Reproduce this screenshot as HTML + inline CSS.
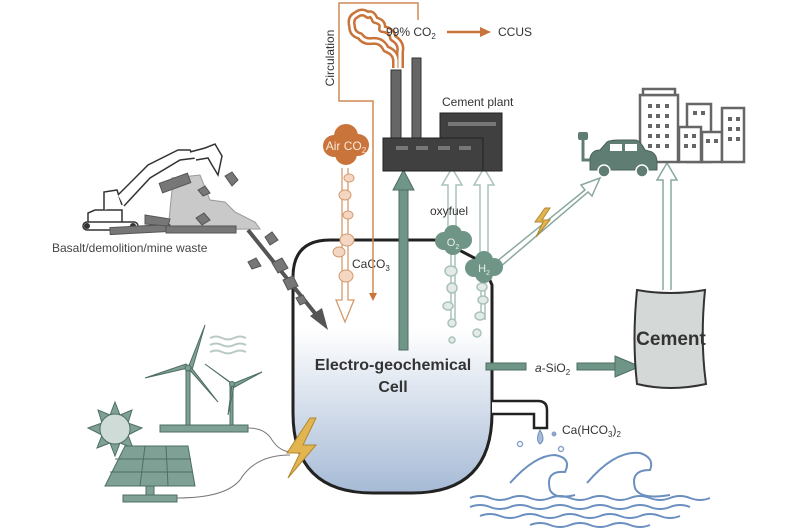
<!DOCTYPE html>
<html><head><meta charset="utf-8"><style>
html,body{margin:0;padding:0;background:#fff}
svg{display:block}
text{font-family:"Liberation Sans",sans-serif}
</style></head><body>
<svg width="800" height="530" viewBox="0 0 800 530" xmlns="http://www.w3.org/2000/svg">
<defs>
<linearGradient id="cg" x1="0" y1="0" x2="0" y2="1">
<stop offset="0" stop-color="#fff"/><stop offset="0.35" stop-color="#fff"/><stop offset="1" stop-color="#a6bad6"/>
</linearGradient>
</defs>

<!-- Cell -->
<path d="M293,277 Q293,240 330,240 L440,240 L482,262 L492,285 L492,413 Q492,493 412,493 L373,493 Q293,493 293,413 Z" fill="url(#cg)" stroke="#222" stroke-width="3"/>
<text x="393" y="370" font-size="16" font-weight="bold" text-anchor="middle" fill="#333">Electro-geochemical</text>
<text x="393" y="392" font-size="16" font-weight="bold" text-anchor="middle" fill="#333">Cell</text>

<!-- faucet -->
<path d="M492,401 L538,401 Q547,401 547,410 L547,428 L534,428 L534,414 L492,414" fill="#fff" stroke="#222" stroke-width="2.5"/>
<path d="M540,430 Q535,440 540,444 Q546,440 540,430Z" fill="#a8bcd8" stroke="#6b8fc0"/>
<circle cx="520" cy="444" r="2.5" fill="none" stroke="#8aa4c8" stroke-width="1.5"/>
<circle cx="554" cy="434" r="2.5" fill="#8aa4c8"/>
<circle cx="561" cy="449" r="2.5" fill="none" stroke="#8aa4c8" stroke-width="1.5"/>
<text x="562" y="434" font-size="12" fill="#333">Ca(HCO<tspan font-size="8" dy="3">3</tspan><tspan dy="-3">)</tspan><tspan font-size="8" dy="3">2</tspan></text>
<!-- waves -->
<g fill="none" stroke="#6b8fc0" stroke-width="2">
<path d="M510,483 Q535,455 555,455 Q572,458 565,472 Q545,470 550,490 Q555,500 575,495"/>
<path d="M587,483 Q615,450 640,453 Q655,458 650,470 Q630,470 635,488 Q640,500 670,495"/>
<path d="M470,498 q10,-4 20,0 t20,0 t20,0 t20,0 t20,0 t20,0 t20,0 t20,0 t20,0 t20,0 t20,0 t20,0"/>
<path d="M470,507 q10,-4 20,0 t20,0 t20,0 t20,0 t20,0 t20,0 t20,0 t20,0 t20,0 t20,0 t20,0"/>
<path d="M480,516 q10,-4 20,0 t20,0 t20,0 t20,0 t20,0 t20,0 t20,0 t20,0 t20,0 t20,0"/>
<path d="M530,525 q10,-4 20,0 t20,0 t20,0 t20,0 t20,0 t20,0"/>
</g>

<!-- a-SiO2 arrow -->
<rect x="486" y="363" width="40" height="7" fill="#6f9587" stroke="#4e6e63"/>
<rect x="577" y="363" width="40" height="7" fill="#6f9587" stroke="#4e6e63"/>
<path d="M615,356 L640,366.5 L615,377Z" fill="#6f9587" stroke="#4e6e63"/>
<text x="535" y="372" font-size="12" fill="#333"><tspan font-style="italic">a</tspan>-SiO<tspan font-size="8" dy="3">2</tspan></text>

<!-- Cement bag -->
<path d="M637,290 Q670,296 705,290 Q700,340 706,384 Q670,392 637,384 Q632,340 637,290Z" fill="#d4d9d8" stroke="#333" stroke-width="2"/>
<text x="671" y="345" font-size="19" font-weight="bold" text-anchor="middle" fill="#333">Cement</text>
<!-- arrow up to city -->
<path d="M663,290 L663,180 L657,180 L667,163 L677,180 L671,180 L671,290" fill="#fff" stroke="#8aa89d" stroke-width="1.5"/>

<!-- city -->
<g fill="#fff" stroke="#666" stroke-width="2.5">
<rect x="640" y="95" width="38" height="67"/>
<rect x="643" y="89" width="32" height="6"/>
<rect x="687" y="104" width="24" height="58"/>
<rect x="679" y="127" width="22" height="35"/>
<rect x="702" y="132" width="20" height="30"/>
<rect x="722" y="108" width="22" height="54"/>
</g>
<g fill="#666">
<rect x="648" y="104" width="4" height="4"/><rect x="656" y="104" width="4" height="4"/><rect x="665" y="104" width="4" height="4"/>
<rect x="648" y="114" width="4" height="4"/><rect x="656" y="114" width="4" height="4"/><rect x="665" y="114" width="4" height="4"/>
<rect x="648" y="124" width="4" height="4"/><rect x="656" y="124" width="4" height="4"/><rect x="665" y="124" width="4" height="4"/>
<rect x="648" y="134" width="4" height="4"/><rect x="656" y="134" width="4" height="4"/><rect x="665" y="134" width="4" height="4"/>
<rect x="648" y="144" width="4" height="4"/><rect x="656" y="144" width="4" height="4"/><rect x="665" y="144" width="4" height="4"/>
<rect x="693" y="111" width="4" height="4"/><rect x="701" y="111" width="4" height="4"/>
<rect x="684" y="134" width="4" height="4"/><rect x="692" y="134" width="4" height="4"/>
<rect x="684" y="144" width="4" height="4"/><rect x="692" y="144" width="4" height="4"/>
<rect x="706" y="139" width="4" height="4"/><rect x="714" y="139" width="4" height="4"/>
<rect x="728" y="117" width="4" height="4"/><rect x="736" y="117" width="4" height="4"/>
<rect x="728" y="127" width="4" height="4"/><rect x="736" y="127" width="4" height="4"/>
<rect x="728" y="137" width="4" height="4"/><rect x="736" y="137" width="4" height="4"/>
</g>
<!-- car -->
<path d="M590,170 L590,158 Q592,150 600,150 L607,142 Q610,140 620,140 L635,140 Q640,140 645,150 L652,152 Q657,155 657,162 L657,170 Z" fill="#5f7d73" stroke="#4a6158"/>
<rect x="610" y="144" width="12" height="7" fill="#fff"/><rect x="625" y="144" width="12" height="7" fill="#fff"/>
<circle cx="604" cy="171" r="6" fill="#5f7d73" stroke="#fff" stroke-width="1.5"/>
<circle cx="642" cy="171" r="6" fill="#5f7d73" stroke="#fff" stroke-width="1.5"/>
<path d="M590,160 L583,160 L583,140" fill="none" stroke="#5f7d73" stroke-width="3"/>
<rect x="578" y="132" width="10" height="8" rx="2" fill="#5f7d73"/>

<!-- diagonal hollow arrow to car -->
<path d="M496,262 L585,190 L581,185 L600,178 L592,196 L588,192 L500,267Z" fill="#fff" stroke="#8aa89d" stroke-width="1.5"/>
<path d="M545,208 L535,222 L543,222 L536,237 L550,220 L542,220 L550,208Z" fill="#e2b550" stroke="#b08830"/>

<!-- oxyfuel arrows -->
<path d="M448,228 L448,185 L442,185 L452,168 L462,185 L456,185 L456,228" fill="#fff" stroke="#a9c2b8" stroke-width="1.5"/>
<path d="M480,262 L480,185 L474,185 L484,168 L494,185 L488,185 L488,262" fill="#fff" stroke="#a9c2b8" stroke-width="1.5"/>
<text x="430" y="215" font-size="12" fill="#333">oxyfuel</text>
<g stroke="#a9c2b8" stroke-width="1.5" fill="#e3ebe8">
<line x1="451" y1="250" x2="451" y2="320"/><line x1="455" y1="250" x2="455" y2="320"/>
<line x1="481" y1="275" x2="481" y2="320"/><line x1="485" y1="275" x2="485" y2="320"/>
<ellipse cx="451" cy="271" rx="6" ry="5"/><ellipse cx="452" cy="288" rx="5" ry="5"/><ellipse cx="448" cy="306" rx="5" ry="4"/><ellipse cx="452" cy="323" rx="4" ry="4"/><ellipse cx="452" cy="340" rx="3" ry="3"/>
<ellipse cx="482" cy="287" rx="5" ry="4"/><ellipse cx="483" cy="300" rx="5" ry="4"/><ellipse cx="480" cy="316" rx="5" ry="4"/><ellipse cx="477" cy="333" rx="4" ry="4"/>
</g>
<g fill="#6f9587">
<circle cx="444" cy="241" r="9"/><circle cx="453" cy="234" r="9"/><circle cx="463" cy="240" r="9"/><circle cx="453" cy="246" r="9"/>
<circle cx="474" cy="268" r="9"/><circle cx="484" cy="260" r="9"/><circle cx="494" cy="267" r="9"/><circle cx="484" cy="274" r="9"/>
</g>
<text x="453" y="246" font-size="11" fill="#e8efec" text-anchor="middle">O<tspan font-size="7" dy="3">2</tspan></text>
<text x="484" y="272" font-size="11" fill="#e8efec" text-anchor="middle">H<tspan font-size="7" dy="3">2</tspan></text>

<!-- CaCO3 arrow -->
<rect x="399" y="188" width="9" height="162" fill="#6f9587" stroke="#4e6e63"/>
<path d="M393,190 L403.5,170 L414,190Z" fill="#6f9587" stroke="#4e6e63"/>
<text x="352" y="268" font-size="12" fill="#333">CaCO<tspan font-size="8" dy="3">3</tspan></text>

<!-- factory -->
<rect x="391" y="70" width="10" height="70" fill="#666" stroke="#333"/>
<rect x="412" y="58" width="9" height="82" fill="#666" stroke="#333"/>
<rect x="440" y="113" width="62" height="58" fill="#404040" stroke="#222"/>
<rect x="448" y="122" width="48" height="4" fill="#777"/>
<rect x="383" y="138" width="100" height="33" fill="#404040" stroke="#222"/>
<g fill="#777"><rect x="396" y="146" width="12" height="4"/><rect x="416" y="146" width="12" height="4"/><rect x="438" y="146" width="12" height="4"/><rect x="459" y="146" width="12" height="4"/></g>
<text x="442" y="106" font-size="12" fill="#333">Cement plant</text>

<!-- smoke outline -->
<g fill="none" stroke-linejoin="round">
<path d="M396,68 L396,60 Q395,52 386,49 Q382,40 372,41 Q364,42 360,36 Q352,34 352,26 Q350,18 356,15 Q362,10 368,15 Q372,12 375,20 Q384,22 382,29 Q392,30 393,38 Q402,43 400,52 L400,68" stroke="#c8743a" stroke-width="8"/>
<path d="M396,68 L396,60 Q395,52 386,49 Q382,40 372,41 Q364,42 360,36 Q352,34 352,26 Q350,18 356,15 Q362,10 368,15 Q372,12 375,20 Q384,22 382,29 Q392,30 393,38 Q402,43 400,52 L400,68" stroke="#fff" stroke-width="3"/>
</g>
<text x="386" y="36" font-size="12" fill="#333">99% CO<tspan font-size="8" dy="3">2</tspan></text>
<line x1="447" y1="32" x2="482" y2="32" stroke="#c8743a" stroke-width="2.5"/>
<path d="M480,27 L491,32 L480,37Z" fill="#c8743a"/>
<text x="498" y="36" font-size="12" fill="#333">CCUS</text>

<!-- circulation line -->
<path d="M418,20 L418,3 L339,3 L339,101 L373,101 L373,295" fill="none" stroke="#d08a55" stroke-width="1.5"/>
<path d="M369,293 L373,301 L377,293Z" fill="#c8743a"/>
<text transform="translate(334,58) rotate(-90)" font-size="12" fill="#333" text-anchor="middle">Circulation</text>

<!-- Air CO2 -->
<g stroke="#d49a6e" stroke-width="1.3" fill="#fff">
<path d="M342,168 L342,300 L336,300 L345,322 L354,300 L348,300 L348,168"/>
</g>
<g fill="#f3d7c2" stroke="#d49a6e">
<ellipse cx="349" cy="178" rx="5" ry="4"/><ellipse cx="345" cy="195" rx="6" ry="5"/><ellipse cx="348" cy="215" rx="5" ry="4"/><ellipse cx="347" cy="240" rx="7" ry="6"/><ellipse cx="339" cy="252" rx="6" ry="5"/><ellipse cx="346" cy="276" rx="7" ry="6"/>
</g>
<g fill="#c8743a">
<circle cx="334" cy="146" r="11"/><circle cx="346" cy="136" r="12"/><circle cx="358" cy="145" r="11"/><circle cx="346" cy="154" r="11"/>
</g>
<text x="346" y="150" font-size="12" fill="#fbe9dc" text-anchor="middle">Air CO<tspan font-size="8" dy="3">2</tspan></text>

<!-- excavator -->
<g fill="#fff" stroke="#333" stroke-width="1.5">
<path d="M88,225 L88,213 L95,210 L122,210 L122,222 Z"/>
<path d="M104,210 L104,192 L117,190 L122,205"/>
<path d="M118,195 L148,165 L178,150 L190,150 L196,158 L180,160 L150,178 L124,206"/>
<path d="M190,152 L205,148 L215,144 L222,156 L218,175 L212,165 L208,158 L196,160"/>
</g>
<rect x="83" y="222" width="55" height="8" rx="4" fill="#fff" stroke="#333" stroke-width="1.5"/>
<circle cx="87" cy="226" r="3" fill="#333"/><circle cx="133" cy="226" r="3" fill="#333"/>
<path d="M172,190 L172,178 L200,175 L210,200 L225,202 L235,212 L255,222 L260,229 L168,230Z" fill="#c9c9c9" stroke="#999"/>
<g fill="#777" stroke="#555">
<rect x="160" y="178" width="30" height="10" transform="rotate(-20 175 183)"/>
<rect x="110" y="226" width="60" height="7" transform="rotate(-3 140 229)"/>
<rect x="166" y="226" width="70" height="7"/>
<path d="M145,215 L170,219 L168,226 L145,224Z"/>
<path d="M225,176 L232,172 L238,180 L232,186Z"/>
<path d="M196,218 L204,213 L210,220 L202,225Z"/>
<path d="M198,190 L205,186 L210,193 L203,196Z"/>
</g>
<text x="52" y="252" font-size="12" fill="#444">Basalt/demolition/mine waste</text>
<line x1="248" y1="230" x2="318" y2="317" stroke="#555" stroke-width="4"/>
<path d="M310,316 L328,330 L322,308Z" fill="#555"/>
<g fill="#777" stroke="#555">
<path d="M265,237 L272,232 L278,240 L270,245Z"/>
<path d="M248,262 L256,258 L261,266 L252,269Z"/>
<path d="M272,263 L282,258 L288,268 L278,273Z"/>
<path d="M283,280 L293,276 L298,286 L288,290Z"/>
<path d="M296,298 L303,295 L307,302 L300,305Z"/>
</g>

<!-- wind turbines -->
<g fill="#7fa095" stroke="#4e6e63" stroke-width="1">
<rect x="186" y="370" width="4" height="56"/>
<path d="M188,368 L205,325 L192,370Z"/><path d="M188,368 L145,378 L186,364Z"/><path d="M188,368 L218,402 L190,366Z"/>
<circle cx="188" cy="368" r="3"/>
<rect x="230" y="386" width="3" height="40"/>
<path d="M232,384 L262,372 L233,388Z"/><path d="M232,384 L205,364 L230,382Z"/><path d="M232,384 L228,415 L234,386Z"/>
<circle cx="232" cy="384" r="2.5"/>
<rect x="160" y="425" width="88" height="7"/>
</g>
<g fill="none" stroke="#b9cac4" stroke-width="2">
<path d="M210,338 q6,-3 12,0 t12,0 t12,0"/><path d="M210,345 q6,-3 12,0 t12,0 t12,0"/><path d="M210,352 q6,-3 12,0 t12,0 t12,0"/>
</g>
<!-- sun -->
<g fill="#7fa095" stroke="#4e6e63">
<polygon points="115,402 120,415 132,410 128,423 142,428 128,435 133,448 120,443 115,456 110,443 97,448 102,435 88,428 102,423 98,410 110,415"/>
</g>
<circle cx="115" cy="429" r="15" fill="#cfdbd7" stroke="#4e6e63"/>
<!-- solar panel -->
<path d="M125,446 L188,446 L195,486 L105,486Z" fill="#7fa095" stroke="#4e6e63"/>
<g stroke="#4e6e63" stroke-width="1"><line x1="115" y1="459" x2="191" y2="459"/><line x1="110" y1="472" x2="193" y2="472"/><line x1="145" y1="446" x2="140" y2="486"/><line x1="166" y1="446" x2="168" y2="486"/></g>
<rect x="146" y="486" width="8" height="9" fill="#7fa095" stroke="#4e6e63"/>
<rect x="123" y="495" width="54" height="7" fill="#7fa095" stroke="#4e6e63"/>
<path d="M248,428 Q265,428 272,440 Q280,452 292,452" fill="none" stroke="#777" stroke-width="1"/>
<path d="M177,498 Q225,498 240,480 Q255,455 290,455" fill="none" stroke="#777" stroke-width="1"/>
<path d="M310,418 L287,453 L300,453 L288,478 L316,445 L303,445 L316,418Z" fill="#e2b550" stroke="#b08830"/>
</svg>
</body></html>
